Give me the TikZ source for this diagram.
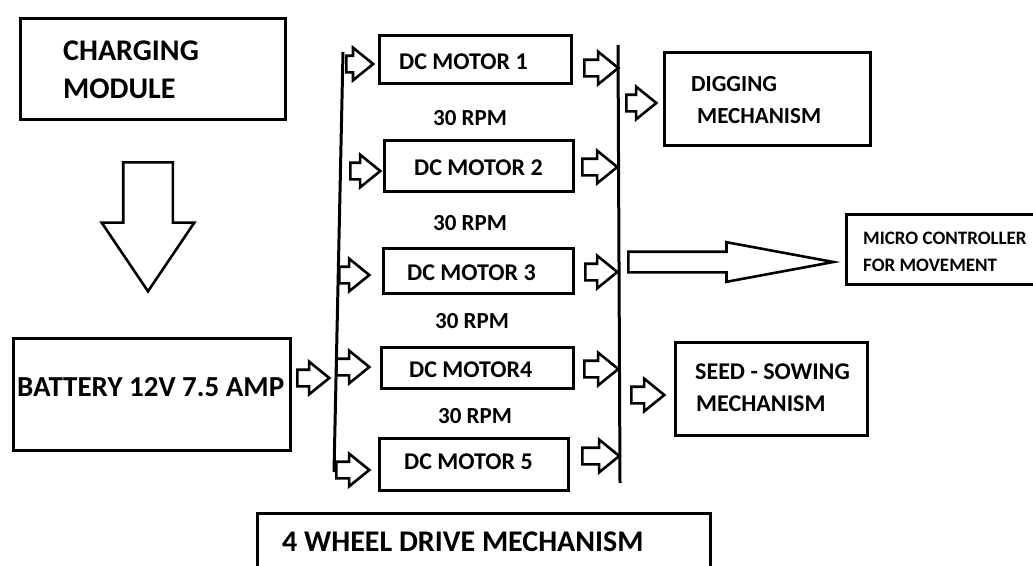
\documentclass[tikz,border=0pt]{standalone}
\usepackage{fontspec}
\setmainfont{Carlito}
\usetikzlibrary{shapes.arrows}
\tikzset{
  box/.style={draw, line width=3pt, rectangle, inner sep=0pt},
  txt/.style={anchor=base west, inner sep=0pt, font=\bfseries\fontsize{#1}{#1}\selectfont},
  barrow/.style={draw, line width=2.6pt, single arrow, inner sep=7pt, anchor=tail,
    single arrow head extend=8pt, single arrow tip angle=78, minimum height=#1},
  bus/.style={line width=3pt}
}
\begin{document}
\begin{tikzpicture}[x=1pt,y=-1pt]
\useasboundingbox (0,0) rectangle (1033,565);
\fill[white] (0,0) rectangle (1033,565);
\clip (0,0) rectangle (1033,565);
% boxes
\node[box, minimum width=265pt, minimum height=101pt] (chg) at (153,69) {};
\node[box, minimum width=277pt, minimum height=112pt] (bat) at (152,394.5) {};
\node[box, minimum width=192pt, minimum height=48pt] (m1) at (475.5,59.5) {};
\node[box, minimum width=189pt, minimum height=51pt] (m2) at (479,166) {};
\node[box, minimum width=190pt, minimum height=45pt] (m3) at (478.5,271) {};
\node[box, minimum width=192pt, minimum height=41pt] (m4) at (477.5,368) {};
\node[box, minimum width=189pt, minimum height=52pt] (m5) at (474,464.5) {};
\node[box, minimum width=206pt, minimum height=93pt] (dig) at (767.5,99) {};
\node[box, minimum width=200pt, minimum height=70pt] (mc) at (946.5,249.5) {};
\node[box, minimum width=192pt, minimum height=93pt] (seed) at (771.5,389) {};
\node[box, minimum width=453pt, minimum height=87pt] (whl) at (484,557) {};
% texts
\node[txt=30pt] (chgA) at (63,60) {CHARGING};
\node[txt=30pt] (chgB) at (63,98) {MODULE};
\node[txt=29pt] (batT) at (17,396) {BATTERY 12V 7.5 AMP};
\node[txt=24pt] (m1T) at (399,69) {DC MOTOR 1};
\node[txt=24pt] (m2T) at (414,175) {DC MOTOR 2};
\node[txt=24pt] (m3T) at (407,280) {DC MOTOR 3};
\node[txt=24pt] (m4T) at (409,377) {DC MOTOR4};
\node[txt=24pt] (m5T) at (404,469) {DC MOTOR 5};
\node[txt=23pt] (r1) at (433,125) {30 RPM};
\node[txt=23pt] (r2) at (433,230) {30 RPM};
\node[txt=23pt] (r3) at (435,328) {30 RPM};
\node[txt=23pt] (r4) at (438,423) {30 RPM};
\node[txt=23pt] (digA) at (691,91) {DIGGING};
\node[txt=23pt] (digB) at (697,123) {MECHANISM};
\node[txt=19pt] (mcA) at (863,244) {MICRO CONTROLLER};
\node[txt=19pt] (mcB) at (863,271) {FOR MOVEMENT};
\node[txt=24pt] (seedA) at (695,379) {SEED - SOWING};
\node[txt=24pt] (seedB) at (696,411) {MECHANISM};
\node[txt=30pt] (whlT) at (282,551) {4 WHEEL DRIVE MECHANISM};
% buses
\coordinate (lbt) at (343,52);
\coordinate (lbb) at (334,472);
\coordinate (rbt) at (618,45);
\coordinate (rbb) at (620,483);
\draw[bus] (lbt) -- (lbb);
\draw[bus] (rbt) -- (rbb);
% big arrows
\node[draw, line width=2.6pt, single arrow, inner sep=23.5pt, anchor=tail, shape border rotate=270,
  single arrow head extend=21.5pt, single arrow tip angle=68, minimum height=129pt] (down) at (148,161) {};
\node[draw, line width=2.6pt, single arrow, inner sep=9pt, anchor=tail,
  single arrow head extend=9.5pt, single arrow tip angle=21, minimum height=205pt] (toMC) at (627,262) {};
% small arrows
\node[barrow=32pt] (a0) at (296,378) {};
\node[barrow=26pt] (i1) at (345,64) {};
\node[barrow=30pt] (i2) at (349,171) {};
\node[barrow=30pt] (i3) at (338,275) {};
\node[barrow=33pt] (i4) at (335,367) {};
\node[barrow=33pt] (i5) at (335,470) {};
\node[barrow=34pt] (o1) at (583,68) {};
\node[barrow=35pt] (o2) at (581,167) {};
\node[barrow=32pt] (o3) at (584,272) {};
\node[barrow=34pt] (o4) at (583,369) {};
\node[barrow=37pt] (o5) at (581,456) {};
\node[barrow=30pt] (toDig) at (625,103) {};
\node[barrow=33pt] (toSeed) at (630,395) {};
\end{tikzpicture}
\end{document}
